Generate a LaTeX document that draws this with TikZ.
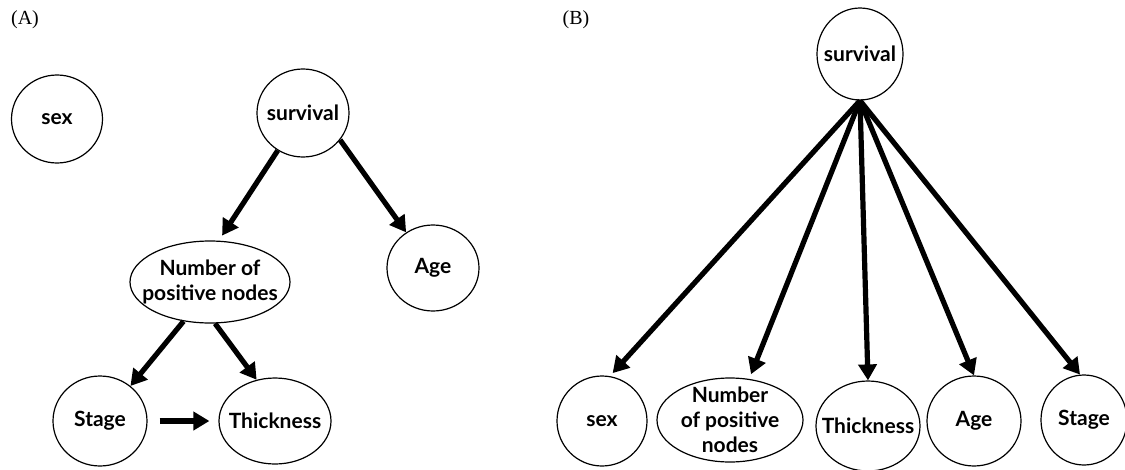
\documentclass[tikz,border=0pt]{standalone}
\usepackage{fontspec}
\setmainfont{Lato}
\newfontfamily\labfont{Liberation Serif}
\usetikzlibrary{shapes.geometric,arrows.meta}
\begin{document}
\begin{tikzpicture}[x=1pt,y=-1pt,
  vnode/.style={ellipse, draw, line width=1.2pt, inner sep=0pt},
  vtext/.style={font=\fontsize{21}{25}\selectfont\bfseries, align=center, inner sep=0pt},
  arr/.style={line width=5.2pt, -{Triangle[length=16pt,width=18pt]}},
  panel/.style={font=\fontsize{20}{24}\labfont, inner sep=0pt}]
\useasboundingbox (0,0) rectangle (1125,469);

% panel labels
\node[panel] (labA) at (25,20) {(A)};
\node[panel] (labB) at (576,20) {(B)};

% ---------- (A) ----------
\node[vnode, minimum width=91pt, minimum height=88pt, label={[vtext]center:sex}] (sexA) at (57,119) {};
\node[vnode, minimum width=92pt, minimum height=88pt, label={[vtext]center:survival}] (survA) at (303,113) {};
\node[vnode, minimum width=160pt, minimum height=82pt, label={[vtext]center:Number of\\positive nodes}] (numA) at (210,282) {};
\node[vnode, minimum width=92pt, minimum height=86pt, label={[vtext]center:Age}] (ageA) at (433,268) {};
\node[vnode, minimum width=94pt, minimum height=90pt, label={[vtext]center:Stage}] (stageA) at (100,421) {};
\node[vnode, minimum width=112pt, minimum height=86pt, label={[vtext]center:Thickness}] (thickA) at (275,421) {};

\draw[arr, shorten >=6pt] (survA.236) -- (numA.78);
\draw[arr] (survA.324) -- (ageA.127);
\draw[arr] (numA.236.6) -- (stageA.49);
\draw[arr] (numA.277) -- (thickA.114);
\draw[arr, shorten <=12pt, shorten >=9pt] (stageA.east) -- (thickA.west);

% ---------- (B) ----------
\node[vnode, minimum width=86pt, minimum height=92pt, label={[vtext]center:survival}] (survB) at (860,54) {};
\node[vnode, minimum width=90pt, minimum height=90pt, label={[vtext]center:sex}] (sexB) at (602,421) {};
\node[vnode, minimum width=146pt, minimum height=84pt, label={[vtext]center:Number\\of positive\\nodes}] (numB) at (730,420) {};
\node[vnode, minimum width=104pt, minimum height=90pt, label={[vtext]center:Thickness}] (thickB) at (868,426) {};
\node[vnode, minimum width=94pt, minimum height=90pt, label={[vtext]center:Age}] (ageB) at (974,421) {};
\node[vnode, minimum width=86pt, minimum height=90pt, label={[vtext]center:Stage}] (stageB) at (1084,420) {};

\draw[arr, shorten >=4pt] (survB.south) -- (sexB.80);
\draw[arr, shorten >=5pt] (survB.south) -- (numB.65);
\draw[arr] (survB.south) -- (thickB.north);
\draw[arr] (survB.south) -- (ageB.north);
\draw[arr] (survB.south) -- (stageB.95);
\end{tikzpicture}
\end{document}
